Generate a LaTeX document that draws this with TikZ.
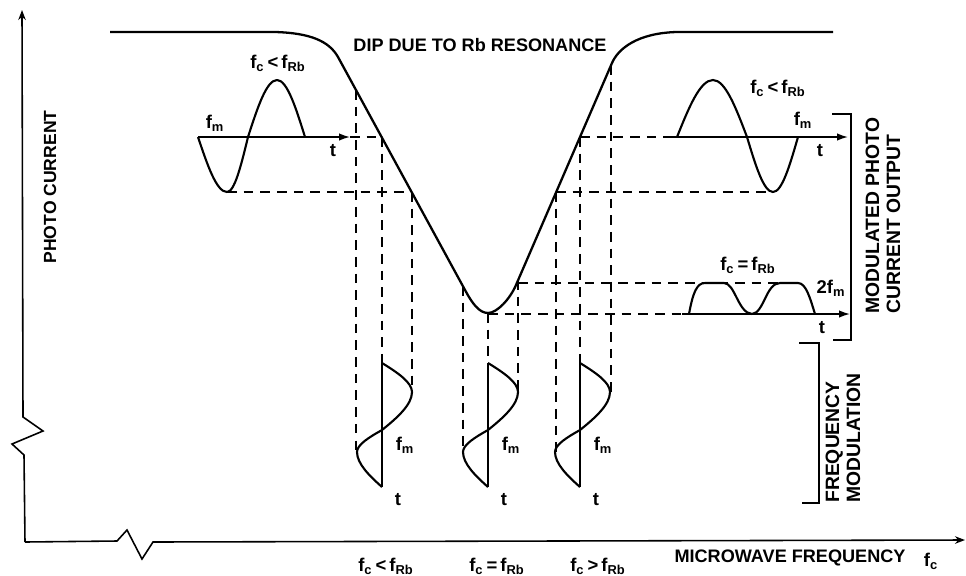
\documentclass[tikz,border=0pt]{standalone}
\usepackage{fontspec}
\setmainfont{Liberation Sans}
\usetikzlibrary{arrows.meta}

\begin{document}
\begin{tikzpicture}[x=0.02cm, y=-0.02cm,
  dip/.style={line width=1.3pt, line join=round},
  wave/.style={line width=1.2pt, line join=round},
  proj/.style={line width=0.9pt, dash pattern=on 5.5pt off 4pt},
  axis/.style={line width=0.9pt, -{Stealth[length=2mm,width=1.5mm]}},
  tax/.style={line width=0.9pt, -{Latex[length=2.2mm,width=1.5mm]}},
  brk/.style={line width=1pt},
  txt/.style={font=\bfseries\fontsize{10.3}{12.5}\selectfont, inner sep=0pt},
  vtxt/.style={font=\bfseries\fontsize{11}{12}\selectfont, inner sep=0pt, rotate=90, align=left, anchor=west},
  lab/.style={font=\bfseries\fontsize{10.5}{13}\selectfont, inner sep=0pt}
]
  \useasboundingbox (0,0) rectangle (966,575);

  % Axes (with breaks)
  \draw[axis] (25,542) -- (24,455) -- (12,444) -- (43,431) -- (23,417) -- (22,10);
  \draw[axis] (25,542) -- (117,541) -- (127,530) -- (142,559) -- (153,542) -- (965,540);
  \node[txt, rotate=90, font=\bfseries\fontsize{10}{12}\selectfont] (ylab) at (50,187) {PHOTO CURRENT};
  \node[txt] (xlab) at (790,558) {MICROWAVE FREQUENCY};
  \node[lab] (fcax) at (931,561) {f\textsubscript{c}};

  % Resonance dip
  \draw[dip] (110,32) -- (275,32) .. controls (310,33) and (329,41) .. (338,57)
    -- (465,290) .. controls (472,303) and (479,313) .. (488,313)
    .. controls (497,313) and (510,299) .. (516,285)
    -- (612,63) .. controls (618,49) and (637,33) .. (677,32) -- (833,32);
  \node[txt] (dipl) at (480,45) {DIP DUE TO Rb RESONANCE};

  % Projections, f_c < f_Rb
  \draw[proj] (356,90) -- (356,452);
  \draw[proj] (382,137) -- (382,363);
  \draw[proj] (412,192) -- (412,392);
  \draw[proj] (350,137) -- (382,137);
  \draw[proj] (227,192) -- (412,192);
  % Projections, f_c = f_Rb
  \draw[proj] (463,286) -- (463,452);
  \draw[proj] (488,313) -- (488,363);
  \draw[proj] (518,280) -- (518,392);
  \draw[proj] (518,283) -- (780,283);
  \draw[proj] (488,314) -- (682,314);
  % Projections, f_c > f_Rb
  \draw[proj] (556,192) -- (556,452);
  \draw[proj] (580,137) -- (580,363);
  \draw[proj] (611,65) -- (611,392);
  \draw[proj] (580,137) -- (665,137);
  \draw[proj] (556,192) -- (773,192);

  % Photo current output
  \draw[tax] (198,137) -- (350,137);
  \draw[wave] (198,137) sin (227,192) cos (248,137) sin (277,80) cos (305,137);
  \node[lab] (lfc) at (278,63) {f\textsubscript{c}\,<\,f\textsubscript{Rb}};
  \node[lab] (lfm) at (215,123) {f\textsubscript{m}};
  \node[lab] (lt) at (333,151) {t};

  \draw[tax] (665,137) -- (848,137);
  \draw[wave] (677,137) sin (713,80) cos (747,137) sin (773,192) cos (798,137);
  \node[lab] (rfc) at (778,88) {f\textsubscript{c}\,<\,f\textsubscript{Rb}};
  \node[lab] (rfm) at (803,120) {f\textsubscript{m}};
  \node[lab] (rt) at (820,151) {t};

  \draw[tax] (682,314) -- (850,314);
  \draw[wave] (689,314) .. controls (693,292) and (697,283) .. (705,283) -- (724,283)
    .. controls (735,283) and (738,313) .. (752,314)
    .. controls (764,313) and (766,283) .. (780,283) -- (798,283)
    .. controls (806,283) and (810,298) .. (815,314);
  \node[lab] (efc) at (748,265) {f\textsubscript{c}\,=\,f\textsubscript{Rb}};
  \node[lab] (efm) at (831,288) {2f\textsubscript{m}};
  \node[lab] (et) at (822,328) {t};

  % Frequency modulation
  \foreach \c in {382,488,580} {
    \draw[wave] (\c,363) -- (\c,487);
    \draw[wave] (\c,363) .. controls (\c+15.6,372.6) and (\c+30,382.4) .. (\c+30,392)
      .. controls (\c+30,404.5) and (\c+15.6,417.5) .. (\c,430)
      .. controls (\c-13,437.3) and (\c-25,444.7) .. (\c-25,452)
      .. controls (\c-25,463.5) and (\c-13,475.5) .. (\c,487);
    \node[lab] (fm\c) at (\c+23,445) {f\textsubscript{m}};
    \node[lab] (t\c) at (\c+16,500) {t};
  }
  \node[lab] (blo) at (386,566) {f\textsubscript{c}\,<\,f\textsubscript{Rb}};
  \node[lab] (beq) at (497,566) {f\textsubscript{c}\,=\,f\textsubscript{Rb}};
  \node[lab] (bhi) at (598,566) {f\textsubscript{c}\,>\,f\textsubscript{Rb}};

  % Brackets
  \draw[brk] (832,114) -- (851,114) -- (851,340) -- (833,340);
  \node[vtxt] (modl) at (883,314) {MODULATED PHOTO\\CURRENT OUTPUT};
  \draw[brk] (799,343) -- (819,343) -- (819,503) -- (802,503);
  \node[vtxt] (fml) at (843,503) {FREQUENCY\\MODULATION};
\end{tikzpicture}
\end{document}
